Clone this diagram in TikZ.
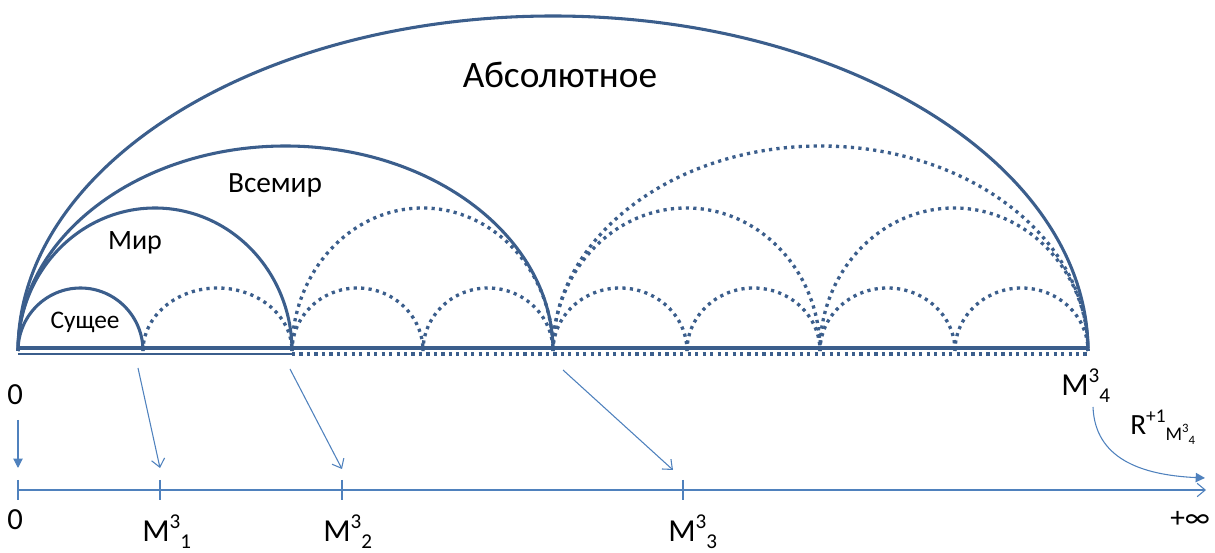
\documentclass[tikz,border=0pt]{standalone}
\usepackage{fontspec}
\setmainfont{Carlito}
\usetikzlibrary{arrows.meta}
\definecolor{arcblue}{HTML}{3B5E8C}
\definecolor{pointblue}{HTML}{4F81BD}
\newcommand{\supsub}[3]{#1\raisebox{0.42em}{\scalebox{0.66}{#2}}\raisebox{-0.2em}{\scalebox{0.66}{#3}}}
\tikzset{
  arcline/.style={draw=arcblue,line width=2.3pt},
  arcdots/.style={draw=arcblue,line width=2.5pt,dash pattern=on 2.4pt off 3.2pt},
  pointer/.style={draw=pointblue,line width=0.8pt,-{Straight Barb[length=6pt,width=10pt]}},
  pointerfill/.style={draw=pointblue,line width=0.8pt,-{Triangle[length=7pt,width=7pt]}},
  lbl/.style={inner sep=0pt,anchor=base west,font=\fontsize{24}{28}\selectfont},
  arclbl/.style={inner sep=0pt,text=black},
}
\begin{document}
\begin{tikzpicture}[x=0.75pt,y=0.75pt]
  \useasboundingbox (0,0) rectangle (1215,553);

  % dotted copies
  \foreach \a/\b in {143/292,292/423,423/553,553/687,687/820,820/955,955/1088}
    \draw[arcdots] (\a,202) arc[start angle=180,end angle=0,x radius={(\b-\a)/2},y radius=63];
  \foreach \a/\b in {292/553,553/820,820/1088}
    \draw[arcdots] (\a,202) arc[start angle=180,end angle=0,x radius={(\b-\a)/2},y radius=143];
  \draw[arcdots] (553,202) arc[start angle=180,end angle=0,x radius=267.5,y radius=205];

  % solid arcs
  \draw[arcline] (18,202) arc[start angle=180,end angle=0,x radius=62.5,y radius=63];
  \draw[arcline] (18,202) arc[start angle=180,end angle=0,x radius=137,y radius=143];
  \draw[arcline] (18,202) arc[start angle=180,end angle=0,x radius=267.5,y radius=205];
  \draw[arcline] (18,202) arc[start angle=180,end angle=0,x radius=535,y radius=335];

  % base lines
  \draw[arcline] (18,205) -- (1088,205);
  \draw[arcline,line width=2pt] (18,199) -- (292,199);
  \draw[arcdots] (292,199) -- (1088,199);

  \node[arclbl,font=\fontsize{28}{32}\selectfont] (absol) at (560,478) {Абсолютное};
  \node[arclbl,font=\fontsize{22}{26}\selectfont] (vsemir) at (275,368) {Всемир};
  \node[arclbl,font=\fontsize{21}{24}\selectfont] (mir) at (135,310) {Мир};
  \node[arclbl,font=\fontsize{19}{22}\selectfont] (sushee) at (85,231) {Сущее};

  % axis
  \coordinate (ax0) at (18,63);
  \coordinate (axend) at (1206,63);
  \draw[pointer] (ax0) -- (axend);
  \foreach \x/\n in {18/0,160/1,342/2,683/3} {
    \coordinate (tt\n) at (\x,73);
    \coordinate (tb\n) at (\x,53);
    \draw[pointblue,line width=0.8pt] (tt\n) -- (tb\n);
  }

  % pointers
  \coordinate (s0) at (18,133);
  \coordinate (e0) at (18,85);
  \coordinate (s1) at (138,185);
  \coordinate (e1) at (160,85);
  \coordinate (s2) at (290,184);
  \coordinate (e2) at (342,84);
  \coordinate (s3) at (563,183);
  \coordinate (e3) at (673,83);
  \coordinate (s4) at (1093,146);
  \coordinate (e4) at (1205,75);
  \draw[pointerfill] (s0) -- (e0);
  \draw[pointer] (s1) -- (e1);
  \draw[pointer] (s2) -- (e2);
  \draw[pointer] (s3) -- (e3);
  \draw[pointerfill] (s4) .. controls (1095,95) and (1140,78) .. (e4);

  % labels
  \node[lbl,font=\fontsize{23}{26}\selectfont] (zerotop) at (7,148) {0};
  \node[lbl,font=\fontsize{23}{26}\selectfont] (zerobot) at (7,23) {0};
  \node[lbl] (m1) at (142,11) {\supsub{M}{3}{1}};
  \node[lbl] (m2) at (323,11) {\supsub{M}{3}{2}};
  \node[lbl] (m3) at (668,11) {\supsub{M}{3}{3}};
  \node[lbl] (m4) at (1061,157) {\supsub{M}{3}{4}};
  \node[lbl,font=\fontsize{22}{26}\selectfont] (rlab) at (1130,118) {\supsub{R}{+1}{\supsub{M}{3}{4}}};
  \node[lbl,font=\fontsize{22}{26}\selectfont] (inf) at (1170,25) {+∞};
\end{tikzpicture}
\end{document}
